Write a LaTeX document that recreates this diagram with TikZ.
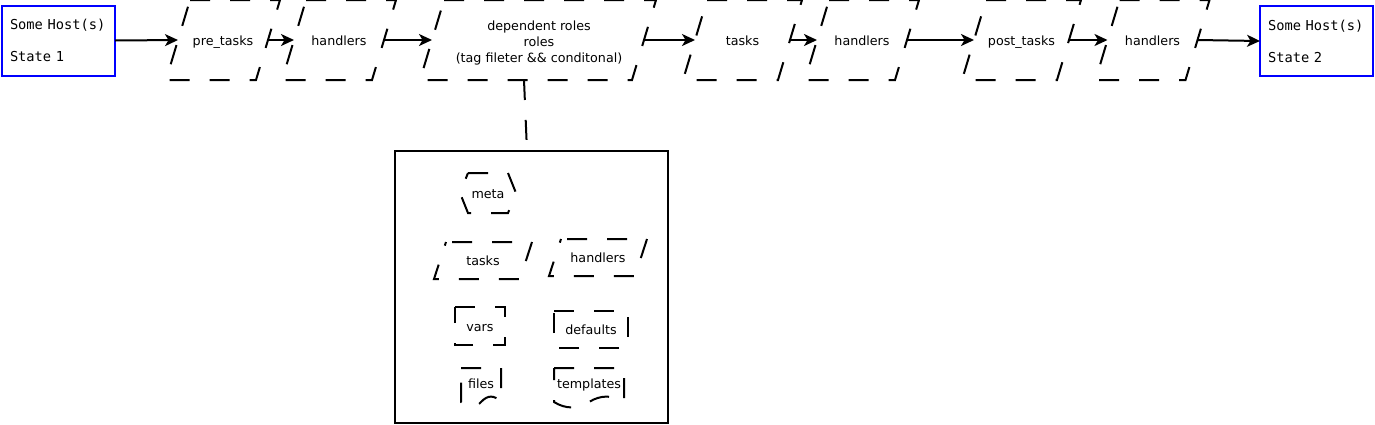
\documentclass[tikz,border=0pt]{standalone}
\usepackage{fontspec}
\setmainfont{DejaVu Sans}
\setmonofont{DejaVu Sans Mono}
\usetikzlibrary{arrows.meta,calc}
\begin{document}
\begin{tikzpicture}[x=1pt,y=-1pt,
  txt/.style={font=\fontsize{12.7}{16}\selectfont, inner sep=0pt, outer sep=0pt, text height=13pt, text depth=3pt},
  box/.style={inner sep=0pt, outer sep=0pt, minimum width=#1},
  host/.style={draw={rgb,255:red,0;green,0;blue,255}, line width=2pt, font=\ttfamily\fontsize{13.7}{16}\selectfont, align=left, text width=97pt, inner xsep=8pt, inner ysep=0pt, minimum height=70pt, outer sep=0pt},
  dsh/.style={draw=black, line width=2pt, dash pattern=on 20pt off 20pt},
  arr/.style={draw=black, line width=2pt, -{Stealth[length=13pt,width=12pt,inset=3.5pt]}},
]
\useasboundingbox (0,0) rectangle (1375,424);

% hosts
\node[host] (hA) at (58.5,40.5) {Some Host(s)\\[\baselineskip]State 1};
\node[host] (hB) at (1316.5,41) {Some Host(s)\\[\baselineskip]State 2};

% top row stages
\node[txt, box=90pt, minimum height=80pt] (pre) at (223,40) {pre\_tasks};
\node[txt, box=90pt, minimum height=80pt] (hdA) at (339,40) {handlers};
\node[box=212pt, minimum height=80pt] (roles) at (538,40) {};
\node[font=\fontsize{12.7}{16}\selectfont, align=center, inner sep=0pt] (rolesL) at (539,43) {dependent roles\\roles\\(tag fileter \&\& conditonal)};
\node[txt, box=95pt, minimum height=80pt] (tasks) at (742.5,40) {tasks};
\node[txt, box=90pt, minimum height=80pt] (hdB) at (862,40) {handlers};
\node[txt, box=95pt, minimum height=80pt] (post) at (1021.5,40) {post\_tasks};
\node[txt, box=90pt, minimum height=80pt] (hdC) at (1152.5,40) {handlers};

\foreach \n in {pre,hdA,roles,tasks,hdB,post,hdC}{
  \draw[dsh] ($(\n.north west)+(12,0)$) -- ($(\n.north east)+(12,0)$) -- ($(\n.south east)+(-12,0)$) -- ($(\n.south west)+(-12,0)$) -- cycle;
}

% arrows
\draw[arr] (hA.east) -- (pre.west);
\draw[arr] (pre.east) -- (hdA.west);
\draw[arr] (hdA.east) -- (roles.west);
\draw[arr] (roles.east) -- (tasks.west);
\draw[arr] (tasks.east) -- (hdB.west);
\draw[arr] (hdB.east) -- (post.west);
\draw[arr] (post.east) -- (hdC.west);
\draw[arr] (hdC.east) -- (hB.west);

% role box
\node[draw, line width=1.5pt, box=273pt, minimum height=272pt] (rbox) at (531.5,287) {};
\draw[dsh] ([xshift=-14pt]roles.south) -- ([xshift=-4.5pt]rbox.north);

% inner shapes
\node[txt, box=56pt, minimum height=40pt] (meta) at (488,193) {meta};
\draw[dsh] ($(meta.north west)+(8,0)$) -- ($(meta.north east)+(-8,0)$) -- (meta.east) -- ($(meta.south east)+(-8,0)$) -- ($(meta.south west)+(8,0)$) -- (meta.west) -- cycle;

\node[txt, box=86pt, minimum height=37pt] (itasks) at (483,260.5) {tasks};
\node[txt, box=86pt, minimum height=37pt] (ihand) at (598,257.5) {handlers};
\foreach \n in {itasks,ihand}{
  \draw[dsh, dash phase=34pt] ($(\n.north west)+(6,0)$) -- ($(\n.north east)+(6,0)$) -- ($(\n.south east)+(-6,0)$) -- ($(\n.south west)+(-6,0)$) -- cycle;
}

\node[txt, box=50pt, minimum height=38pt] (vars) at (480,326) {vars};
\node[txt, box=74pt, minimum height=37pt] (defaults) at (591,329.5) {defaults};
\foreach \n in {vars,defaults}{
  \draw[dsh] (\n.north west) -- (\n.north east) -- (\n.south east) -- (\n.south west) -- cycle;
}

\node[box=40pt, minimum height=40pt] (files) at (481,388) {};
\node[txt] (filesL) at (481,383) {files};
\draw[dsh] (files.north west) -- (files.north east) -- ($(files.south east)+(0,-6)$)
  .. controls ($(files.south east)+(-6.667,-13.2)$) and ($(files.south east)+(-13.333,-13.2)$) .. ($(files.south east)+(-20,-6)$)
  .. controls ($(files.south east)+(-26.667,1.2)$) and ($(files.south east)+(-33.333,1.2)$) .. ($(files.south east)+(-40,-6)$)
  -- ($(files.north west)+(0,6)$) -- cycle;

\node[box=70pt, minimum height=40pt] (templ) at (589,388) {};
\node[txt] (templL) at (589,383) {templates};
\draw[dsh] (templ.north west) -- (templ.north east) -- ($(templ.south east)+(0,-6)$)
  .. controls ($(templ.south east)+(-11.667,-13.2)$) and ($(templ.south east)+(-23.333,-13.2)$) .. ($(templ.south east)+(-35,-6)$)
  .. controls ($(templ.south east)+(-46.667,1.2)$) and ($(templ.south east)+(-58.333,1.2)$) .. ($(templ.south east)+(-70,-6)$)
  -- ($(templ.north west)+(0,6)$) -- cycle;
\end{tikzpicture}
\end{document}
